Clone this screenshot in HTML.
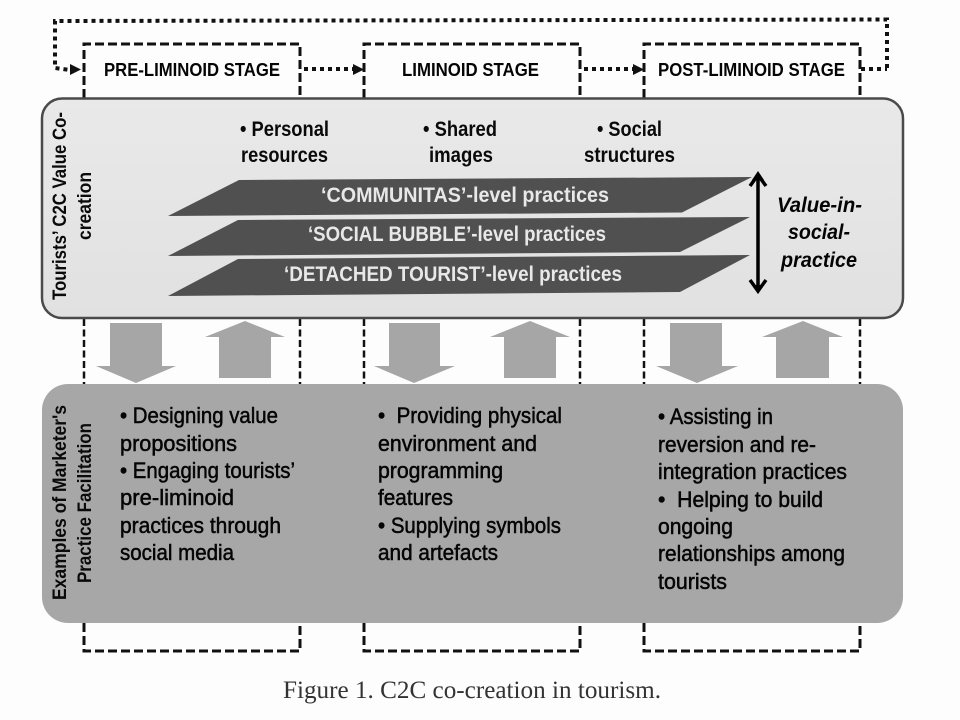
<!DOCTYPE html>
<html><head><meta charset="utf-8"><style>
html,body{margin:0;padding:0;background:#fdfdfd}
svg{display:block;filter:blur(.35px)}
text{font-family:"Liberation Sans",sans-serif;fill:#0c0c0c}
.s{font-weight:bold;font-size:18.500px;fill:#050505}
.b{font-weight:bold;font-size:21px;fill:#0a0a0a}
.p{font-weight:bold;font-size:21px;fill:#e8e8e8}
.v{font-weight:bold;font-size:19.500px;fill:#0a0a0a}
.l{font-size:22px;fill:#050505;stroke:#050505;stroke-width:.5px}
.i{font-weight:bold;font-style:italic;font-size:21px;fill:#050505}
</style></head><body>
<svg width="960" height="720" viewBox="0 0 960 720" xmlns="http://www.w3.org/2000/svg">
<defs>
<linearGradient id="g1" x1="0" y1="0" x2="0" y2="1"><stop offset="0" stop-color="#e9e9e9"/><stop offset="1" stop-color="#e1e1e1"/></linearGradient>
</defs>
<rect width="960" height="720" fill="#fdfdfd"/>
<!-- dashed stage boxes -->
<g fill="none" stroke="#111" stroke-width="3" stroke-dasharray="9 4">
<path d="M84 98V44H300V98"/><path d="M364 98V44H580V98"/><path d="M644 98V44H860V98"/>
<path d="M84 623V651H300V623"/><path d="M364 623V651H580V623"/><path d="M644 623V651H860V623"/>
</g>
<g fill="none" stroke="#111" stroke-width="2.5" stroke-dasharray="7 3.5">
<path d="M84 319V384M300 319V384M364 319V384M580 319V384M644 319V384M860 319V384"/>
</g>
<!-- dotted feedback -->
<g fill="none" stroke="#111" stroke-width="4" stroke-dasharray="4 4">
<path d="M887 68V19.5L55 21V68L70 70"/>
<path d="M861 69H887"/>
<path d="M304 69H353"/>
<path d="M584 69H633"/>
</g>
<g fill="#111">
<polygon points="70,64 81,69.5 70,75"/>
<polygon points="353,64 364,69.5 353,75"/>
<polygon points="633,64 644,69.5 633,75"/>
</g>
<!-- main panels -->
<rect x="42" y="98.500" width="861" height="219.500" rx="20" ry="20" fill="url(#g1)" stroke="#4a4a4a" stroke-width="2.5"/>
<rect x="42" y="384" width="861" height="239" rx="26" ry="26" fill="#a7a7a7"/>
<!-- block arrows -->
<g fill="#a6a6a6">
<polygon points="110,323 162,323 162,366 176,366 136,383 96,366 110,366"/>
<polygon points="245,321 285,337 271,337 271,378 219,378 219,337 205,337"/>
<polygon points="389,323 440,323 440,366 455,366 414,383 374,366 389,366"/>
<polygon points="530,321 570,337 556,337 556,378 504,378 504,337 490,337"/>
<polygon points="670,323 722,323 722,366 738,366 697,383 656,366 670,366"/>
<polygon points="803,321 843,337 829,337 829,378 776,378 776,337 762,337"/>
</g>
<!-- parallelograms -->
<g fill="#505050">
<polygon points="168,216 239,180 752,177 682,212.500"/>
<polygon points="168,256 238,220 750,217 680,252"/>
<polygon points="168,296 238,259 750,255 680,292"/>
</g>
<!-- double arrow -->
<path d="M758 175V291" stroke="#000" stroke-width="3.500" fill="none"/>
<path d="M750 186L758 175L766 186M750 280L758 291L766 280" stroke="#000" stroke-width="3.500" fill="none"/>
<polygon points="758,171 752,180 764,180" fill="#000"/>
<polygon points="758,294 752,285 764,285" fill="#000"/>
<!-- stage labels -->
<text class="s" x="104" y="76" textLength="176" lengthAdjust="spacingAndGlyphs">PRE-LIMINOID STAGE</text>
<text class="s" x="402" y="76" textLength="137" lengthAdjust="spacingAndGlyphs">LIMINOID STAGE</text>
<text class="s" x="658" y="76" textLength="187" lengthAdjust="spacingAndGlyphs">POST-LIMINOID STAGE</text>
<!-- resources -->
<text class="b" x="240" y="136" textLength="89" lengthAdjust="spacingAndGlyphs">• Personal</text>
<text class="b" x="241" y="162" textLength="87" lengthAdjust="spacingAndGlyphs">resources</text>
<text class="b" x="423" y="136" textLength="74" lengthAdjust="spacingAndGlyphs">• Shared</text>
<text class="b" x="429" y="162" textLength="64" lengthAdjust="spacingAndGlyphs">images</text>
<text class="b" x="597" y="136" textLength="65" lengthAdjust="spacingAndGlyphs">• Social</text>
<text class="b" x="584" y="162" textLength="91" lengthAdjust="spacingAndGlyphs">structures</text>
<!-- levels -->
<text class="p" x="321" y="202" textLength="288" lengthAdjust="spacingAndGlyphs">‘COMMUNITAS’-level practices</text>
<text class="p" x="308" y="241" textLength="298" lengthAdjust="spacingAndGlyphs">‘SOCIAL BUBBLE’-level practices</text>
<text class="p" x="284" y="281" textLength="338" lengthAdjust="spacingAndGlyphs">‘DETACHED TOURIST’-level practices</text>
<!-- value -->
<text class="i" x="777" y="212" textLength="85" lengthAdjust="spacingAndGlyphs">Value-in-</text>
<text class="i" x="788" y="239" textLength="62" lengthAdjust="spacingAndGlyphs">social-</text>
<text class="i" x="781" y="267" textLength="76" lengthAdjust="spacingAndGlyphs">practice</text>
<!-- vertical labels -->
<text class="v" transform="translate(66 300) rotate(-90)" textLength="188" lengthAdjust="spacingAndGlyphs">Tourists’  C2C Value Co-</text>
<text class="v" transform="translate(91 240) rotate(-90)" textLength="68" lengthAdjust="spacingAndGlyphs">creation</text>
<text class="v" transform="translate(66 600) rotate(-90)" textLength="195" lengthAdjust="spacingAndGlyphs">Examples of Marketer's</text>
<text class="v" transform="translate(91 583) rotate(-90)" textLength="160" lengthAdjust="spacingAndGlyphs">Practice Facilitation</text>
<!-- column 1 -->
<text class="l" x="120" y="423" textLength="158" lengthAdjust="spacingAndGlyphs">• Designing value</text>
<text class="l" x="120" y="451" textLength="117" lengthAdjust="spacingAndGlyphs">propositions</text>
<text class="l" x="120" y="478" textLength="175" lengthAdjust="spacingAndGlyphs">• Engaging tourists’</text>
<text class="l" x="120" y="505" textLength="114" lengthAdjust="spacingAndGlyphs">pre-liminoid</text>
<text class="l" x="120" y="533" textLength="161" lengthAdjust="spacingAndGlyphs">practices through</text>
<text class="l" x="120" y="560" textLength="114" lengthAdjust="spacingAndGlyphs">social media</text>
<!-- column 2 -->
<text class="l" x="378" y="423" textLength="184" lengthAdjust="spacingAndGlyphs" xml:space="preserve">•  Providing physical</text>
<text class="l" x="378" y="451" textLength="159" lengthAdjust="spacingAndGlyphs">environment and</text>
<text class="l" x="378" y="478" textLength="125" lengthAdjust="spacingAndGlyphs">programming</text>
<text class="l" x="378" y="505" textLength="75" lengthAdjust="spacingAndGlyphs">features</text>
<text class="l" x="378" y="533" textLength="183" lengthAdjust="spacingAndGlyphs">• Supplying symbols</text>
<text class="l" x="378" y="560" textLength="120" lengthAdjust="spacingAndGlyphs">and artefacts</text>
<!-- column 3 -->
<text class="l" x="658" y="424" textLength="115" lengthAdjust="spacingAndGlyphs">• Assisting in</text>
<text class="l" x="658" y="452" textLength="158" lengthAdjust="spacingAndGlyphs">reversion and re-</text>
<text class="l" x="658" y="479" textLength="189" lengthAdjust="spacingAndGlyphs">integration practices</text>
<text class="l" x="658" y="507" textLength="165" lengthAdjust="spacingAndGlyphs" xml:space="preserve">•  Helping to build</text>
<text class="l" x="658" y="534" textLength="75" lengthAdjust="spacingAndGlyphs">ongoing</text>
<text class="l" x="658" y="561" textLength="187" lengthAdjust="spacingAndGlyphs">relationships among</text>
<text class="l" x="658" y="589" textLength="69" lengthAdjust="spacingAndGlyphs">tourists</text>
<!-- caption -->
<text x="283" y="698" font-size="25" textLength="378" lengthAdjust="spacingAndGlyphs" style="font-family:'Liberation Serif',serif;fill:#333">Figure 1. C2C co-creation in tourism.</text>
</svg>
</body></html>
